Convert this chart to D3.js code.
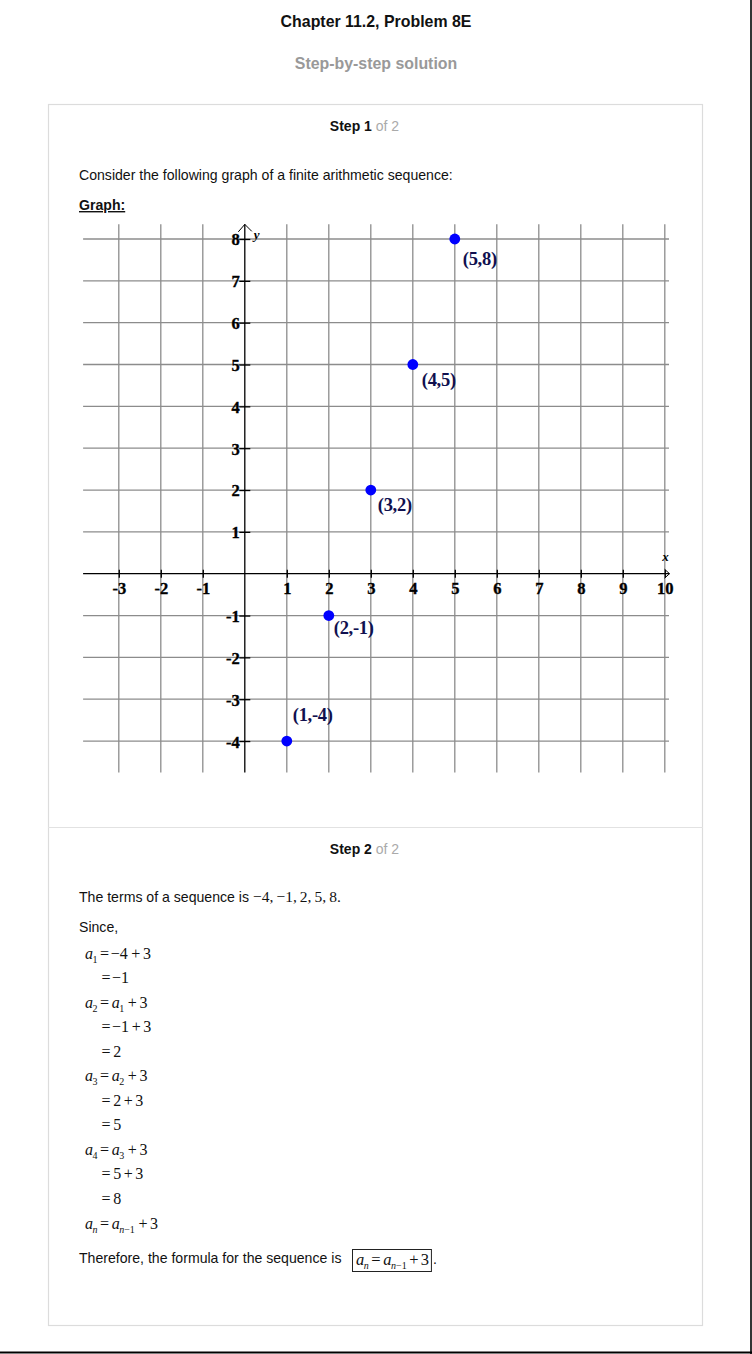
<!DOCTYPE html>
<html>
<head>
<meta charset="utf-8">
<script src="https://cdn.jsdelivr.net/npm/d3@7/dist/d3.min.js"></script>
<style>
  html, body { margin: 0; padding: 0; background: #fff; }
  svg { display: block; }
</style>
</head>
<body>
<svg id="page" width="752" height="1354"></svg>
<script>
// ---------- data ----------
const xTicks = [-3, -2, -1, 1, 2, 3, 4, 5, 6, 7, 8, 9, 10];
const yTicks = [-4, -3, -2, -1, 1, 2, 3, 4, 5, 6, 7, 8];
const xGrid = [-3, -2, -1, 0, 1, 2, 3, 4, 5, 6, 7, 8, 9, 10];
const yGrid = [-4, -3, -2, -1, 0, 1, 2, 3, 4, 5, 6, 7, 8];
const pointX = [1, 2, 3, 4, 5];
const pointY = [-4, -1, 2, 5, 8];
const pointLabels = ["(1,-4)", "(2,-1)", "(3,2)", "(4,5)", "(5,8)"];
const sequenceTerms = ["−4", "−1", "2", "5", "8"];

// ---------- layout ----------
const labelOffsets = [[6, -20], [5, 18], [7, 21], [9, 21], [8, 26]];
const svg = d3.select("#page");
const SANS = "'Liberation Sans', Arial, sans-serif";
const SERIF = "'Liberation Serif', 'Times New Roman', serif";
const BODY = 14.1;

// page frame lines
svg.append("line").attr("x1", 751).attr("x2", 751).attr("y1", 0).attr("y2", 1354)
  .attr("stroke", "#000").attr("stroke-width", 1.6);
svg.append("line").attr("x1", 0).attr("x2", 752).attr("y1", 1352.5).attr("y2", 1352.5)
  .attr("stroke", "#000").attr("stroke-width", 2);

// header
svg.append("text").attr("x", 376).attr("y", 26.5).attr("text-anchor", "middle")
  .attr("font-family", SANS).attr("font-weight", "bold").attr("font-size", 15.9)
  .attr("fill", "#111").text("Chapter 11.2, Problem 8E");
svg.append("text").attr("x", 376).attr("y", 68.5).attr("text-anchor", "middle")
  .attr("font-family", SANS).attr("font-weight", "bold").attr("font-size", 15.9)
  .attr("fill", "#999").text("Step-by-step solution");

// card
svg.append("rect").attr("x", 48.5).attr("y", 104.5).attr("width", 654).attr("height", 1221)
  .attr("fill", "none").attr("stroke", "#dcdcdc").attr("stroke-width", 1.2);
svg.append("line").attr("x1", 48).attr("x2", 703).attr("y1", 827.5).attr("y2", 827.5)
  .attr("stroke", "#e2e2e2").attr("stroke-width", 1.2);

function stepHeader(y, n) {
  const t = svg.append("text").attr("x", 364.5).attr("y", y).attr("text-anchor", "middle")
    .attr("font-family", SANS).attr("font-size", 14);
  t.append("tspan").attr("font-weight", "bold").attr("fill", "#111").text("Step " + n);
  t.append("tspan").attr("fill", "#aaa").text(" of 2");
}
stepHeader(131, 1);
stepHeader(854, 2);

svg.append("text").attr("x", 79).attr("y", 180).attr("font-family", SANS).attr("font-size", BODY)
  .attr("fill", "#111").text("Consider the following graph of a finite arithmetic sequence:");
svg.append("text").attr("x", 79).attr("y", 210).attr("font-family", SANS)
  .attr("font-size", BODY).attr("font-weight", "bold").attr("fill", "#111")
  .attr("text-decoration", "underline").text("Graph:");

// ---------- chart ----------
const x = d3.scaleLinear().domain([0, 10]).range([244.8, 664.8]);
const y = d3.scaleLinear().domain([0, 8]).range([573.7, 239]);
const X0 = x(0), Y0 = y(0);
const xLeft = x(-3.85), xRight = x(10.1);
const yTop = y(8.35), yBottom = y(-4.75);

const chart = svg.append("g");
// grid
chart.selectAll("line.vg").data(xGrid.filter(d => d !== 0)).join("line").attr("class", "vg")
  .attr("x1", d => x(d)).attr("x2", d => x(d)).attr("y1", yTop).attr("y2", yBottom)
  .attr("stroke", "#8c8c8c").attr("stroke-width", 1.3);
chart.selectAll("line.hg").data(yGrid.filter(d => d !== 0)).join("line").attr("class", "hg")
  .attr("x1", xLeft).attr("x2", xRight).attr("y1", d => y(d)).attr("y2", d => y(d))
  .attr("stroke", "#8c8c8c").attr("stroke-width", 1.3);

// axes lines
chart.append("line").attr("x1", xLeft).attr("x2", xRight + 0.5).attr("y1", Y0).attr("y2", Y0)
  .attr("stroke", "#000").attr("stroke-width", 1.3);
chart.append("line").attr("x1", X0).attr("x2", X0).attr("y1", yTop).attr("y2", yBottom)
  .attr("stroke", "#000").attr("stroke-width", 1.3);
// arrows
chart.append("path").attr("d", `M${xRight - 4.5},${Y0 - 4.5} L${xRight + 0.5},${Y0} L${xRight - 4.5},${Y0 + 4.5}`)
  .attr("fill", "none").attr("stroke", "#000").attr("stroke-width", 1);
chart.append("path").attr("d", `M${X0 - 6.5},${yTop + 7.5} L${X0},${yTop} L${X0 + 7},${yTop + 7}`)
  .attr("fill", "none").attr("stroke", "#000").attr("stroke-width", 1);

// x axis (ticks + labels)
const xAxis = d3.axisBottom(x).tickValues(xTicks).tickSizeInner(8).tickSizeOuter(0)
  .tickPadding(4.5).tickFormat(d => String(d));
const gx = chart.append("g").attr("transform", `translate(0,${Y0 - 4})`).call(xAxis);
gx.select(".domain").remove();
gx.selectAll(".tick line").attr("stroke", "#000").attr("stroke-width", 1.3);
gx.selectAll(".tick text").attr("fill", "#000").attr("font-family", SERIF)
  .attr("font-weight", "bold").attr("font-size", 16.5)
  .attr("stroke", "#000").attr("stroke-width", 0.35);

// y axis (ticks + labels)
const yAxis = d3.axisLeft(y).tickValues(yTicks).tickSizeInner(11).tickSizeOuter(0)
  .tickPadding(-0.5).tickFormat(d => String(d));
const gy = chart.append("g").attr("transform", `translate(${X0 + 5.5},0)`).call(yAxis);
gy.select(".domain").remove();
gy.selectAll(".tick line").attr("stroke", "#000").attr("stroke-width", 1.3);
gy.selectAll(".tick text").attr("fill", "#000").attr("font-family", SERIF)
  .attr("font-weight", "bold").attr("font-size", 16.5).attr("dy", "0.36em")
  .attr("stroke", "#000").attr("stroke-width", 0.35);

// axis names
chart.append("text").attr("x", X0 + 9).attr("y", y(8) - 0.5).attr("font-family", SERIF)
  .attr("font-style", "italic").attr("font-weight", "bold").attr("font-size", 13).text("y");
chart.append("text").attr("x", x(10) - 2.5).attr("y", Y0 - 13).attr("font-family", SERIF)
  .attr("font-style", "italic").attr("font-weight", "bold").attr("font-size", 13).text("x");

// points
const pts = pointX.map((d, i) => ({ x: d, y: pointY[i], label: pointLabels[i], off: labelOffsets[i] }));
chart.selectAll("circle.pt").data(pts).join("circle").attr("class", "pt")
  .attr("cx", d => x(d.x)).attr("cy", d => y(d.y)).attr("r", 5.4).attr("fill", "#0000ff");
chart.selectAll("text.pl").data(pts).join("text").attr("class", "pl")
  .attr("x", d => x(d.x) + d.off[0]).attr("y", d => y(d.y) + d.off[1])
  .attr("font-family", SERIF).attr("font-weight", "bold").attr("font-size", 18.5)
  .attr("letter-spacing", -0.3)
  .attr("fill", "#10104f").text(d => d.label);

// ---------- step 2 ----------
const seqText = svg.append("text").attr("x", 79).attr("y", 902).attr("font-family", SANS)
  .attr("font-size", BODY).attr("fill", "#111");
seqText.append("tspan").text("The terms of a sequence is ");
seqText.append("tspan").attr("font-family", SERIF).attr("font-size", 15.5)
  .text(sequenceTerms.join(",\u2009"));
seqText.append("tspan").attr("font-family", SERIF).attr("font-size", 15.5).text(".");

svg.append("text").attr("x", 79).attr("y", 932).attr("font-family", SANS).attr("font-size", BODY)
  .attr("fill", "#111").text("Since,");

// math helpers: parts = [text, style, gapBefore]
// style: "i" italic, "s" subscript (upright), "si" subscript italic
function mathLine(x0, yb, parts, size) {
  const t = svg.append("text").attr("x", x0).attr("y", yb).attr("font-family", SERIF)
    .attr("font-size", size || 16).attr("fill", "#111");
  let shifted = false;
  parts.forEach(([txt, st, gap]) => {
    const sp = t.append("tspan").text(txt);
    const isSub = st === "s" || st === "si";
    let dy = 0;
    if (isSub && !shifted) { dy = 4; shifted = true; }
    if (!isSub && shifted) { dy = -4; shifted = false; }
    if (dy) sp.attr("dy", dy);
    if (gap) sp.attr("dx", gap);
    if (isSub) sp.attr("font-size", 10);
    if (st === "i" || st === "si") sp.attr("font-style", "italic");
  });
  return t;
}
const L = 85, C = 101.5;
const G = 2.6; // operator gap
const eq = [
  [L, [["a", "i"], ["1", "s", -0.5], ["=", "", G], ["−4", "", 1.5], ["+", "", G + 1], ["3", "", G]]],
  [C, [["="], ["−1", "", 1.5]]],
  [L, [["a", "i"], ["2", "s", -0.5], ["=", "", G], ["a", "i", G], ["1", "s", -0.5], ["+", "", G + 1], ["3", "", G]]],
  [C, [["="], ["−1", "", 1.5], ["+", "", G], ["3", "", G]]],
  [C, [["="], ["2", "", G]]],
  [L, [["a", "i"], ["3", "s", -0.5], ["=", "", G], ["a", "i", G], ["2", "s", -0.5], ["+", "", G + 1], ["3", "", G]]],
  [C, [["="], ["2", "", G], ["+", "", G], ["3", "", G]]],
  [C, [["="], ["5", "", G]]],
  [L, [["a", "i"], ["4", "s", -0.5], ["=", "", G], ["a", "i", G], ["3", "s", -0.5], ["+", "", G + 1], ["3", "", G]]],
  [C, [["="], ["5", "", G], ["+", "", G], ["3", "", G]]],
  [C, [["="], ["8", "", G]]],
  [L, [["a", "i"], ["n", "si", -0.5], ["=", "", G], ["a", "i", G], ["n", "si", -0.5], ["−1", "s"], ["+", "", G + 1], ["3", "", G]]]
];
eq.forEach((row, i) => mathLine(row[0], 958.5 + i * 24.55, row[1]));

svg.append("text").attr("x", 79).attr("y", 1263).attr("font-family", SANS)
  .attr("font-size", BODY).attr("fill", "#111").text("Therefore, the formula for the sequence is");
const boxed = mathLine(356, 1264.5, [["a", "i"], ["n", "si", -0.5], ["=", "", G], ["a", "i", G], ["n", "si", -0.5], ["−1", "s"], ["+", "", G], ["3", "", G - 0.5]], 16.5);
const bb = boxed.node().getBBox();
svg.append("rect").attr("x", 352.5).attr("y", 1249.5).attr("width", bb.x + bb.width - 352.5 + 2.5)
  .attr("height", 22).attr("fill", "none").attr("stroke", "#222").attr("stroke-width", 1);
svg.append("text").attr("x", bb.x + bb.width + 4).attr("y", 1264).attr("font-family", SANS)
  .attr("font-size", BODY).attr("fill", "#111").text(".");
</script>
</body>
</html>
